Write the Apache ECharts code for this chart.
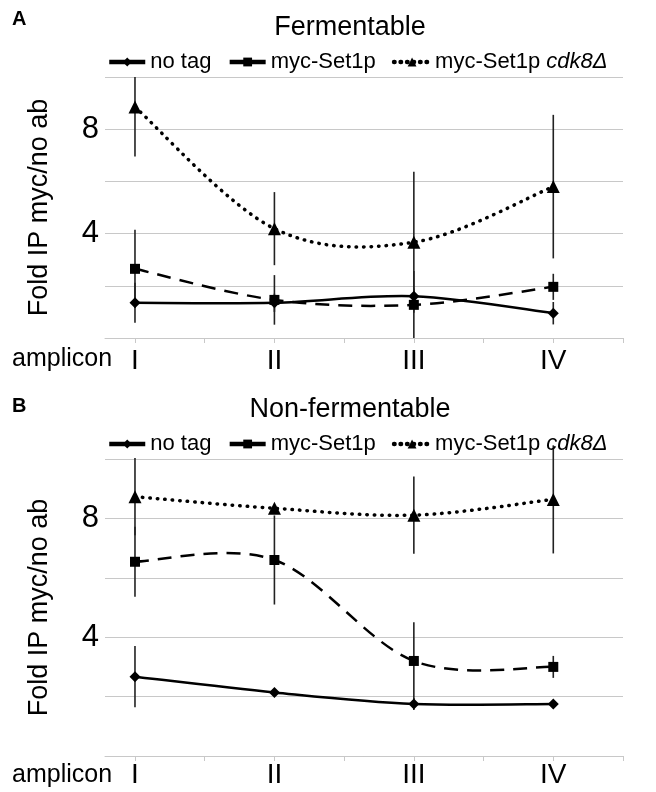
<!DOCTYPE html>
<html>
<head>
<meta charset="utf-8">
<script src="https://cdn.jsdelivr.net/npm/echarts@6/dist/echarts.min.js"></script>
<style>
html, body { margin: 0; padding: 0; background: #fff; }
#chart { width: 656px; height: 792px; }
</style>
</head>
<body>
<div id="chart"></div>
<script>
var amplicons = ['I', 'II', 'III', 'IV'];
var ampliconX = [1, 2, 3, 4];
var tickX = [1, 1.5, 2, 2.5, 3, 3.5, 4, 4.5];
var yLabelled = [4, 8];
var seriesNames = ['no tag', 'myc-Set1p', 'myc-Set1p cdk8Δ'];

// A: fermentable
var fermNoTag = [1.35, 1.35, 1.6, 0.95];
var fermNoTagErr = [0.77, 0.35, 0.3, 0.43];
var fermSet1 = [2.65, 1.46, 1.27, 1.96];
var fermSet1Err = [1.5, 0.95, 1.3, 0.5];
var fermCdk8 = [8.85, 4.19, 3.67, 5.8];
var fermCdk8Err = [1.9, 1.4, 2.7, 2.75];

// B: non-fermentable
var nonNoTag = [2.67, 2.14, 1.75, 1.75];
var nonNoTagErr = [1.03, 0.05, 0.2, 0.05];
var nonSet1 = [6.54, 6.6, 3.2, 3.0];
var nonSet1Err = [1.18, 1.5, 1.3, 0.37];
var nonCdk8 = [8.73, 8.34, 8.11, 8.64];
var nonCdk8Err = [1.3, 0.1, 1.3, 1.82];

var FONT = 'Liberation Sans';

function points(vals) {
    return vals.map(function (v, i) { return [ampliconX[i], v]; });
}
function errPoints(vals, errs) {
    return vals.map(function (v, i) { return [ampliconX[i], v - errs[i], v + errs[i]]; });
}

var lineLooks = [
    { symbol: 'diamond', symbolSize: 11, width: 2.5, dash: null, cap: 'butt' },
    { symbol: 'rect', symbolSize: 10, width: 2.5, dash: [14, 9], cap: 'butt' },
    { symbol: 'triangle', symbolSize: 13, width: 3.5, dash: [0.5, 7], cap: 'round' }
];

// markers + legend entry
function markerSeries(idx, vals, k) {
    var look = lineLooks[k];
    return {
        name: seriesNames[k],
        type: 'line',
        xAxisIndex: idx,
        yAxisIndex: idx,
        symbol: look.symbol,
        symbolSize: look.symbolSize,
        itemStyle: { color: '#000' },
        lineStyle: { color: '#000', width: 0, opacity: 0 },
        z: 4,
        data: points(vals)
    };
}

// smoothed curve (cardinal spline like the spreadsheet one), drawn via axis coords
function curveSeries(idx, vals, k) {
    var look = lineLooks[k];
    var pts = points(vals);
    return {
        type: 'custom',
        xAxisIndex: idx,
        yAxisIndex: idx,
        silent: true,
        clip: false,
        z: 3,
        data: pts,
        renderItem: function (params, api) {
            if (params.dataIndex !== 0) return null;
            var c = pts.map(function (p) { return api.coord(p); });
            var d = 'M' + c[0][0] + ' ' + c[0][1];
            for (var i = 0; i < c.length - 1; i++) {
                var p0 = c[Math.max(i - 1, 0)], p1 = c[i], p2 = c[i + 1], p3 = c[Math.min(i + 2, c.length - 1)];
                var a1x = p1[0] + (p2[0] - p0[0]) / 6, a1y = p1[1] + (p2[1] - p0[1]) / 6;
                var a2x = p2[0] - (p3[0] - p1[0]) / 6, a2y = p2[1] - (p3[1] - p1[1]) / 6;
                d += ' C' + a1x + ' ' + a1y + ' ' + a2x + ' ' + a2y + ' ' + p2[0] + ' ' + p2[1];
            }
            return {
                type: 'path',
                shape: { pathData: d },
                style: { fill: 'none', stroke: '#000', lineWidth: look.width, lineDash: look.dash, lineCap: look.cap }
            };
        }
    };
}

function errSeries(idx, vals, errs, clip) {
    return {
        type: 'custom',
        xAxisIndex: idx,
        yAxisIndex: idx,
        clip: clip,
        silent: true,
        z: 2,
        renderItem: function (params, api) {
            var x = api.value(0);
            var lo = api.coord([x, api.value(1)]);
            var hi = api.coord([x, api.value(2)]);
            return {
                type: 'line',
                shape: { x1: lo[0], y1: lo[1], x2: hi[0], y2: hi[1] },
                style: { stroke: '#222', lineWidth: 1.6 }
            };
        },
        data: errPoints(vals, errs)
    };
}

function xAxisFor(idx, margin) {
    return {
        type: 'value',
        gridIndex: idx,
        min: 0.785,
        max: 4.5,
        axisLine: { show: true, lineStyle: { color: '#c8c8c8', width: 1 } },
        axisTick: { show: true, length: 5, lineStyle: { color: '#c8c8c8' }, customValues: tickX },
        axisLabel: {
            margin: margin,
            customValues: ampliconX,
            color: '#000',
            fontFamily: FONT,
            fontSize: 28,
            formatter: function (v) { return amplicons[ampliconX.indexOf(v)] || ''; }
        },
        splitLine: { show: false }
    };
}

function yAxisFor(idx) {
    return {
        type: 'value',
        gridIndex: idx,
        min: 0,
        max: 10,
        interval: 2,
        name: 'Fold IP myc/no ab',
        nameLocation: 'middle',
        nameGap: 52,
        nameTextStyle: { color: '#000', fontFamily: FONT, fontSize: 27 },
        axisLine: { show: false },
        axisTick: { show: false },
        axisLabel: {
            margin: 6,
            color: '#000',
            fontFamily: FONT,
            fontSize: 31,
            formatter: function (v) { return yLabelled.indexOf(v) >= 0 ? String(v) : ''; }
        },
        splitLine: { lineStyle: { color: '#c8c8c8', width: 1 } }
    };
}

function legendFor(top) {
    return {
        data: seriesNames.map(function (n, k) {
            var look = lineLooks[k];
            return {
                name: n,
                lineStyle: { color: '#000', width: 4.5, opacity: 1, type: k === 2 ? [0.5, 6] : 'solid', cap: look.cap }
            };
        }),
        left: 102,
        top: top,
        itemWidth: 36,
        itemHeight: 11,
        itemGap: 16,
        selectedMode: false,
        formatter: function (name) {
            return name === 'myc-Set1p cdk8Δ' ? 'myc-Set1p {i|cdk8Δ}' : name;
        },
        textStyle: {
            color: '#000', fontFamily: FONT, fontSize: 22,
            rich: { i: { fontStyle: 'italic', fontFamily: FONT, fontSize: 22, color: '#000' } }
        }
    };
}

var chart = echarts.init(document.getElementById('chart'));
chart.setOption({
    animation: false,
    backgroundColor: '#fff',
    title: [
        { text: 'Fermentable', left: 345, top: 9, textAlign: 'center',
          textStyle: { fontFamily: FONT, fontSize: 27, fontWeight: 'normal', color: '#000' } },
        { text: 'Non-fermentable', left: 345, top: 391, textAlign: 'center',
          textStyle: { fontFamily: FONT, fontSize: 27, fontWeight: 'normal', color: '#000' } }
    ],
    legend: [legendFor(46), legendFor(428)],
    grid: [
        { left: 105, right: 33, top: 77, height: 261 },
        { left: 105, right: 33, top: 459, height: 297 }
    ],
    xAxis: [xAxisFor(0, 9), xAxisFor(1, 5)],
    yAxis: [yAxisFor(0), yAxisFor(1)],
    graphic: [
        { type: 'text', left: 12, top: 9, style: { text: 'A', fontFamily: FONT, fontSize: 20, fontWeight: 'bold', fill: '#000' } },
        { type: 'text', left: 12, top: 396, style: { text: 'B', fontFamily: FONT, fontSize: 20, fontWeight: 'bold', fill: '#000' } },
        { type: 'text', left: 12, top: 347, style: { text: 'amplicon', fontFamily: FONT, fontSize: 25, fill: '#000' } },
        { type: 'text', left: 12, top: 763, style: { text: 'amplicon', fontFamily: FONT, fontSize: 25, fill: '#000' } }
    ],
    series: [
        errSeries(0, fermNoTag, fermNoTagErr, true),
        errSeries(0, fermSet1, fermSet1Err, true),
        errSeries(0, fermCdk8, fermCdk8Err, true),
        curveSeries(0, fermNoTag, 0),
        curveSeries(0, fermSet1, 1),
        curveSeries(0, fermCdk8, 2),
        markerSeries(0, fermNoTag, 0),
        markerSeries(0, fermSet1, 1),
        markerSeries(0, fermCdk8, 2),
        errSeries(1, nonNoTag, nonNoTagErr, false),
        errSeries(1, nonSet1, nonSet1Err, false),
        errSeries(1, nonCdk8, nonCdk8Err, false),
        curveSeries(1, nonNoTag, 0),
        curveSeries(1, nonSet1, 1),
        curveSeries(1, nonCdk8, 2),
        markerSeries(1, nonNoTag, 0),
        markerSeries(1, nonSet1, 1),
        markerSeries(1, nonCdk8, 2)
    ]
});
</script>
</body>
</html>
